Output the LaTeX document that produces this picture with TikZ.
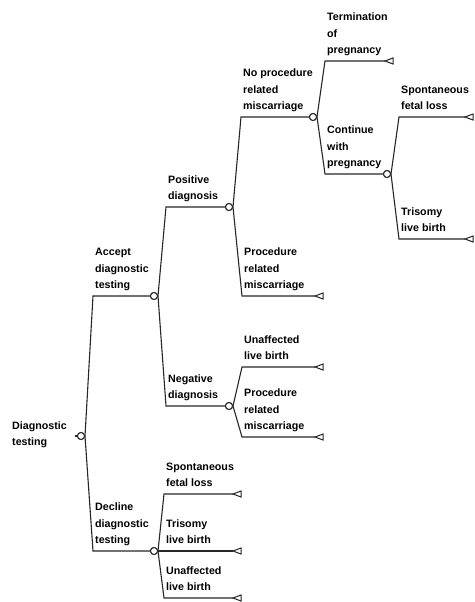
\documentclass[tikz,border=0pt]{standalone}
\usepackage{fontspec}
\setmainfont{Liberation Sans}
\begin{document}
\begin{tikzpicture}[x=1pt,y=-1pt,
  edge/.style={line width=1.1pt,draw=black!85},
  chance/.style={circle,draw=black!85,fill=white,line width=1pt,minimum size=7pt,inner sep=0pt},
  tri/.style={line width=1pt,draw=black!85,fill=white},
  lab/.style={anchor=south west,inner sep=0pt,align=left,text depth=3pt,
    font=\fontsize{10.7}{16.8}\selectfont\bfseries}]
\useasboundingbox (0,0) rectangle (474,602);
% chance nodes
\node[chance] (R) at (81,436) {};
\node[chance] (A) at (154,296) {};
\node[chance] (D) at (154,551) {};
\node[chance] (P) at (229,207) {};
\node[chance] (N) at (229,406) {};
\node[chance] (NP) at (313,117) {};
\node[chance] (C) at (387,174) {};
% branch starts
\coordinate (Rs) at (75,436);
\coordinate (As) at (93,296);
\coordinate (Ds) at (93,551);
\coordinate (Ps) at (166,207);
\coordinate (Ns) at (166,406);
\coordinate (NPs) at (241,117);
\coordinate (PRMs) at (242,296);
\coordinate (Ts) at (325,61);
\coordinate (Cs) at (325,174);
\coordinate (SFs) at (399,117);
\coordinate (TRs) at (399,239);
\coordinate (Us) at (242,367);
\coordinate (PRM2s) at (242,437);
\coordinate (DSs) at (164,494);
\coordinate (DTs) at (164,551);
\coordinate (DUs) at (164,598);
% terminal tips
\coordinate (PRM) at (315,296);
\coordinate (T) at (385,61);
\coordinate (SF) at (465,117);
\coordinate (TR) at (465,239);
\coordinate (U) at (315,367);
\coordinate (PRM2) at (315,437);
\coordinate (DS) at (233,494);
\coordinate (DT) at (233,551);
\coordinate (DU) at (233,598);
% edges
\draw[edge] (Rs) -- (R.west);
\draw[edge] (R.east) -- (As) -- (A.west);
\draw[edge] (R.east) -- (Ds) -- (D.west);
\draw[edge] (A.east) -- (Ps) -- (P.west);
\draw[edge] (A.east) -- (Ns) -- (N.west);
\draw[edge] (P.east) -- (NPs) -- (NP.west);
\draw[edge] (P.east) -- (PRMs) -- (PRM);
\draw[edge] (NP.east) -- (Ts) -- (T);
\draw[edge] (NP.east) -- (Cs) -- (C.west);
\draw[edge] (C.east) -- (SFs) -- (SF);
\draw[edge] (C.east) -- (TRs) -- (TR);
\draw[edge] (N.east) -- (Us) -- (U);
\draw[edge] (N.east) -- (PRM2s) -- (PRM2);
\draw[edge] (D.east) -- (DSs) -- (DS);
\draw[edge] (D.east) -- (DT);
\draw[edge] (D.east) -- (DUs) -- (DU);
% redraw chance circles on top
\foreach \c in {R,A,D,P,N,NP,C} \node[chance] at (\c) {};
% terminal triangles
\foreach \t in {PRM,T,SF,TR,U,PRM2,DS,DT,DU}
  \draw[tri] (\t) -- ++(8,-3) -- ++(0,6) -- cycle;
% labels
\node[lab] (lR) at (12,449) {Diagnostic\\testing};
\node[lab] (lA) at ([shift={(2,-4)}]As) {Accept\\diagnostic\\testing};
\node[lab] (lD) at ([shift={(2,-4)}]Ds) {Decline\\diagnostic\\testing};
\node[lab] (lP) at ([shift={(2,-4)}]Ps) {Positive\\diagnosis};
\node[lab] (lN) at ([shift={(2,-4)}]Ns) {Negative\\diagnosis};
\node[lab] (lNP) at ([shift={(2,-4)}]NPs) {No procedure\\related\\miscarriage};
\node[lab] (lPRM) at ([shift={(2,-4)}]PRMs) {Procedure\\related\\miscarriage};
\node[lab] (lT) at ([shift={(2,-4)}]Ts) {Termination\\of\\pregnancy};
\node[lab] (lC) at ([shift={(2,-4)}]Cs) {Continue\\with\\pregnancy};
\node[lab] (lSF) at ([shift={(2,-4)}]SFs) {Spontaneous\\fetal loss};
\node[lab] (lTR) at ([shift={(2,-4)}]TRs) {Trisomy\\live birth};
\node[lab] (lU) at ([shift={(2,-4)}]Us) {Unaffected\\live birth};
\node[lab] (lPRM2) at ([shift={(2,-4)}]PRM2s) {Procedure\\related\\miscarriage};
\node[lab] (lDS) at ([shift={(2,-4)}]DSs) {Spontaneous\\fetal loss};
\node[lab] (lDT) at ([shift={(2,-4)}]DTs) {Trisomy\\live birth};
\node[lab] (lDU) at ([shift={(2,-4)}]DUs) {Unaffected\\live birth};
\end{tikzpicture}
\end{document}
